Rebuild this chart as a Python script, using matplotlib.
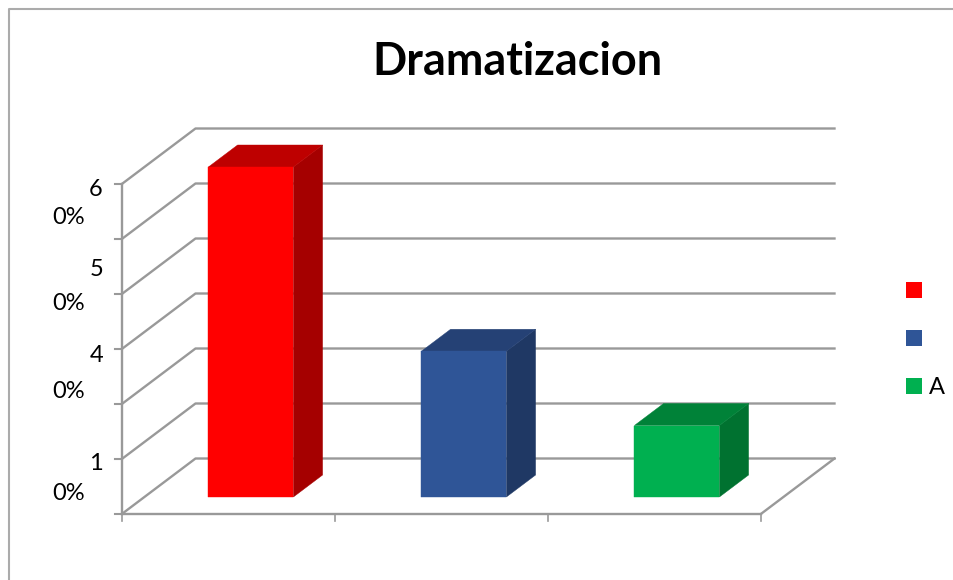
import matplotlib
matplotlib.use('Agg')
import matplotlib.pyplot as plt
from matplotlib.patches import Polygon, Patch

# Данные
categories = ['', '', 'A']
values = [60, 26.5, 13]
y_grid = [0, 10, 20, 30, 40, 50, 60]
front_colors = ['#FF0000', '#2F5597', '#00B050']
side_colors = ['#A50000', '#1F3864', '#007230']
top_colors = ['#BE0000', '#254175', '#008238']

# Подписи оси Y (разорваны на две строки, как в оригинале)
tick_parts = ['6', '5', '4', '1']
tick_parts2 = ['0%', '0%', '0%', '0%']
tick_y1 = [190, 270, 355, 463]
tick_y2 = [217, 303, 391, 493]

W, H = 954, 580
X0, Y0 = 122, 513      # начало оси в пикселях
CAT_PX, UNIT_PX = 213, 5.5
DEPTH_X, DEPTH_Y = 73 / CAT_PX, 55 / UNIT_PX
GRAY = '#999999'
plt.rcParams['font.family'] = ['Lato', 'DejaVu Sans']

fig = plt.figure(figsize=(W / 100, H / 100), dpi=100)
ax = fig.add_axes([0, 0, 1, 1])
ax.set_xlim(-(X0 + 0.5) / CAT_PX, (W - X0 - 0.5) / CAT_PX)
ax.set_ylim(-(H - Y0 - 0.5) / UNIT_PX, (Y0 + 0.5) / UNIT_PX)
ax.axis('off')


def shift(x, y, d):
    # точка на глубине d (0 - передний край, 1 - задняя стенка)
    return x + DEPTH_X * d, y + DEPTH_Y * d


# Сетка: диагональ по боковой стенке + линия по задней
n = len(categories)
for g in y_grid:
    bx, by = shift(0, g, 1)
    ax.plot([0, bx, bx + n], [g, by, by], color=GRAY, lw=1.7, zorder=1)
    ax.plot([-7 / CAT_PX, 0], [g, g], color=GRAY, lw=1.5, zorder=1)

# Оси
ax.plot([0, 0], [0, y_grid[-1]], color=GRAY, lw=1.7, zorder=1)
ax.plot([0, n], [0, 0], color=GRAY, lw=1.7, zorder=1)
rx, ry = shift(n, 0, 1)
ax.plot([n, rx], [0, ry], color=GRAY, lw=1.7, zorder=1)
for i in range(n + 1):
    ax.plot([i, i], [0, -7 / UNIT_PX], color=GRAY, lw=1.2, zorder=1)

# Столбцы
bar_w = 85 / CAT_PX
d0, d1 = 16.5 / 55, 38.5 / 55
for i, v in enumerate(values):
    left = i + 0.5 - bar_w / 2 - DEPTH_X * 0.5 * (d0 + d1) + DEPTH_X * 0.5
    right = left + bar_w
    a = shift(left, 0, d0)
    b = shift(right, 0, d0)
    c = shift(right, v, d0)
    e = shift(left, v, d0)
    b2 = shift(right, 0, d1)
    c2 = shift(right, v, d1)
    e2 = shift(left, v, d1)
    ax.add_patch(Polygon([b, b2, c2, c], fc=side_colors[i], ec=side_colors[i], lw=0.3, zorder=2))
    ax.add_patch(Polygon([e, c, c2, e2], fc=top_colors[i], ec=top_colors[i], lw=0.3, zorder=2))
    ax.add_patch(Polygon([a, b, c, e], fc=front_colors[i], ec=front_colors[i], lw=0.3, zorder=3))

# Рамка области диаграммы
fig.add_artist(plt.Line2D([9 / W, 9 / W, 1], [0, 1 - 9 / H, 1 - 9 / H], color='#ABABAB', lw=1.5))

# Заголовок
fig.text(517 / W, 1 - 62 / H, 'Dramatizacion', fontsize=32.4, fontweight='bold',
         ha='center', va='center', color='black')

# Подписи оси Y
for p1, p2, y1, y2 in zip(tick_parts, tick_parts2, tick_y1, tick_y2):
    fig.text(103 / W, 1 - y1 / H, p1, fontsize=17, ha='right', va='center', color='black')
    fig.text(84.5 / W, 1 - y2 / H, p2, fontsize=17, ha='right', va='center', color='black')

# Легенда
handles = [Patch(fc=c, ec='none') for c in front_colors]
leg = fig.legend(handles, categories, loc='center left', bbox_to_anchor=(897 / W, 1 - 340 / H),
                 frameon=False, fontsize=17, handlelength=0.64, handleheight=0.64,
                 handletextpad=0.3, labelspacing=1.14, borderpad=0.4, borderaxespad=0)

plt.savefig('out.png', dpi=100)
